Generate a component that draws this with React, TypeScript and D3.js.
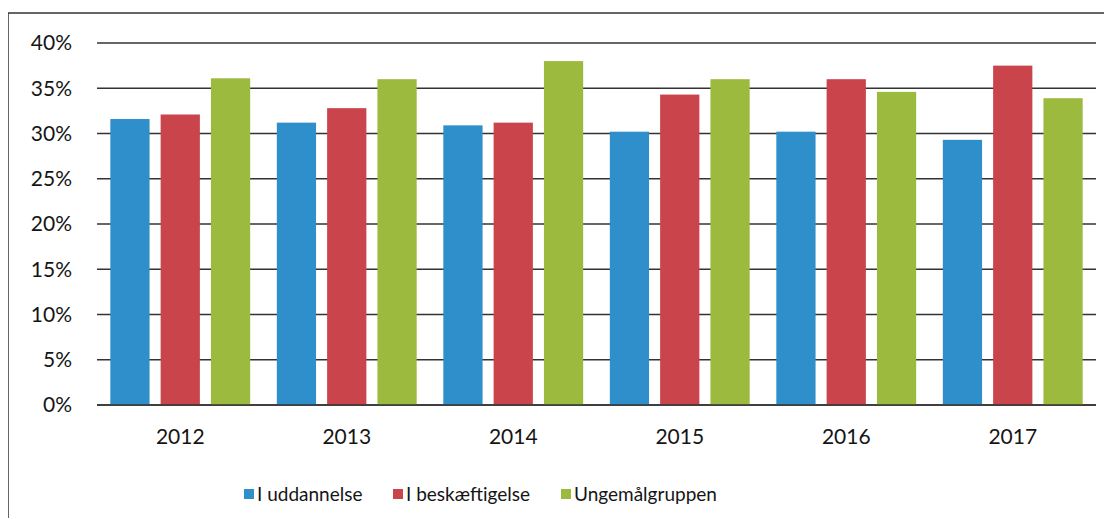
import React from "react";
import * as d3 from "d3";

const years = ["2012", "2013", "2014", "2015", "2016", "2017"];
const seriesNames = ["I uddannelse", "I beskæftigelse", "Ungemålgruppen"];
const uddannelse = [31.6, 31.2, 30.9, 30.2, 30.2, 29.3];
const beskaeftigelse = [32.1, 32.8, 31.2, 34.3, 36.0, 37.5];
const ungemaal = [36.1, 36.0, 38.0, 36.0, 34.6, 33.9];
const yTicks = [0, 5, 10, 15, 20, 25, 30, 35, 40];
const colors = ["#2f8fca", "#c9444b", "#9cba3e"];

const W = 1112;
const H = 526;
const left = 97;
const right = 1096;
const top = 43;
const bottom = 405;
const FONT = "Lato, 'Open Sans', sans-serif";

export default function App() {
  const series = [uddannelse, beskaeftigelse, ungemaal];
  const x0 = d3.scaleBand<string>().domain(years).range([left, right]).paddingInner(0.16).paddingOuter(0.08);
  const x1 = d3.scaleBand<number>().domain([0, 1, 2]).range([0, x0.bandwidth()]).paddingInner(0.22);
  const y = d3.scaleLinear().domain([0, 40]).range([bottom, top]);

  const legendX = [244, 393, 561];

  return (
    <div style={{ margin: -8 }}>
      <svg width={W} height={H} style={{ display: "block", background: "#fff" }}>
        <rect x={8} y={13} width={W + 10} height={H - 20} fill="none" stroke="#333" strokeWidth={1.5} />
        {yTicks.map((t) => (
          <g key={t}>
            <line x1={left} x2={right} y1={y(t)} y2={y(t)} stroke="#333" strokeWidth={1.4} />
            <text x={72} y={y(t)} dy="0.35em" textAnchor="end" fontFamily={FONT} fontSize={21} fill="#151515">
              {t}%
            </text>
          </g>
        ))}
        {years.map((yr, i) => (
          <g key={yr} transform={`translate(${x0(yr)},0)`}>
            {series.map((s, k) => (
              <rect
                key={k}
                x={x1(k)}
                y={y(s[i])}
                width={x1.bandwidth()}
                height={y(0) - y(s[i])}
                fill={colors[k]}
              />
            ))}
            <text
              x={x0.bandwidth() / 2}
              y={437}
              dy="0.35em"
              textAnchor="middle"
              fontFamily={FONT}
              fontSize={21}
              fill="#151515"
            >
              {yr}
            </text>
          </g>
        ))}
        <line x1={left} x2={right} y1={y(0)} y2={y(0)} stroke="#333" strokeWidth={1.4} />
        {seriesNames.map((n, k) => (
          <g key={n} transform={`translate(${legendX[k]},494)`}>
            <rect x={0} y={-5} width={10} height={10} fill={colors[k]} />
            <text x={13} y={0} dy="0.35em" fontFamily={FONT} fontSize={19} fill="#151515">
              {n}
            </text>
          </g>
        ))}
      </svg>
    </div>
  );
}
